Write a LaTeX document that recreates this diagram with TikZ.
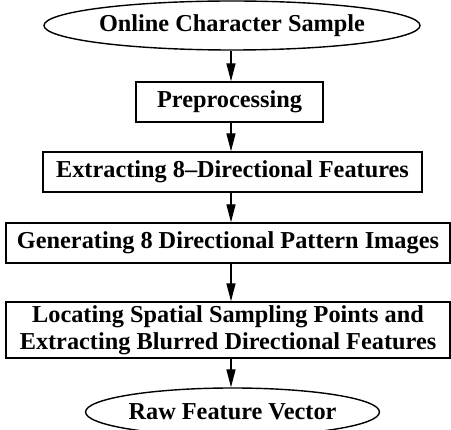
\documentclass[tikz,border=0pt]{standalone}
\usepackage{fontspec}
\setmainfont{Liberation Serif}
\usetikzlibrary{shapes.geometric}
\usetikzlibrary{arrows.meta}

\begin{document}
\begin{tikzpicture}[x=1pt, y=1pt,
 stage/.style={draw, line width=1.4pt, rectangle, minimum height=40pt, inner sep=1pt, align=center, font=\fontsize{24.3}{26.7}\selectfont\bfseries},
 term/.style={draw, line width=1.4pt, ellipse, inner sep=0pt, font=\fontsize{24.3}{26.7}\selectfont\bfseries},
 flow/.style={line width=1.4pt, ->, >={Triangle[length=18pt, width=9pt]}}]
\useasboundingbox (0,0) rectangle (451,-430);
\coordinate (mid) at (231,0);
\node[term, minimum width=320, minimum height=49] (samp) at (232,-25.5) {Online Character Sample};
\node[stage, minimum width=187] (prep) at (229.5,-102) {Preprocessing};
\node[stage, minimum width=379] (extr) at (232.5,-172) {Extracting 8--Directional Features};
\node[stage, minimum width=444] (gen) at (228,-243) {Generating 8 Directional Pattern Images};
\node[stage, minimum width=444, minimum height=56] (loc) at (228,-330) {Locating Spatial Sampling Points and\\Extracting Blurred Directional Features};
\node[term, minimum width=281, minimum height=48] (raw) at (232.5,-412) {Raw Feature Vector};
\foreach \a/\b in {samp/prep, prep/extr, extr/gen, gen/loc, loc/raw}
 \draw[flow] (mid |- \a.south) -- (mid |- \b.north);
\end{tikzpicture}
\end{document}
